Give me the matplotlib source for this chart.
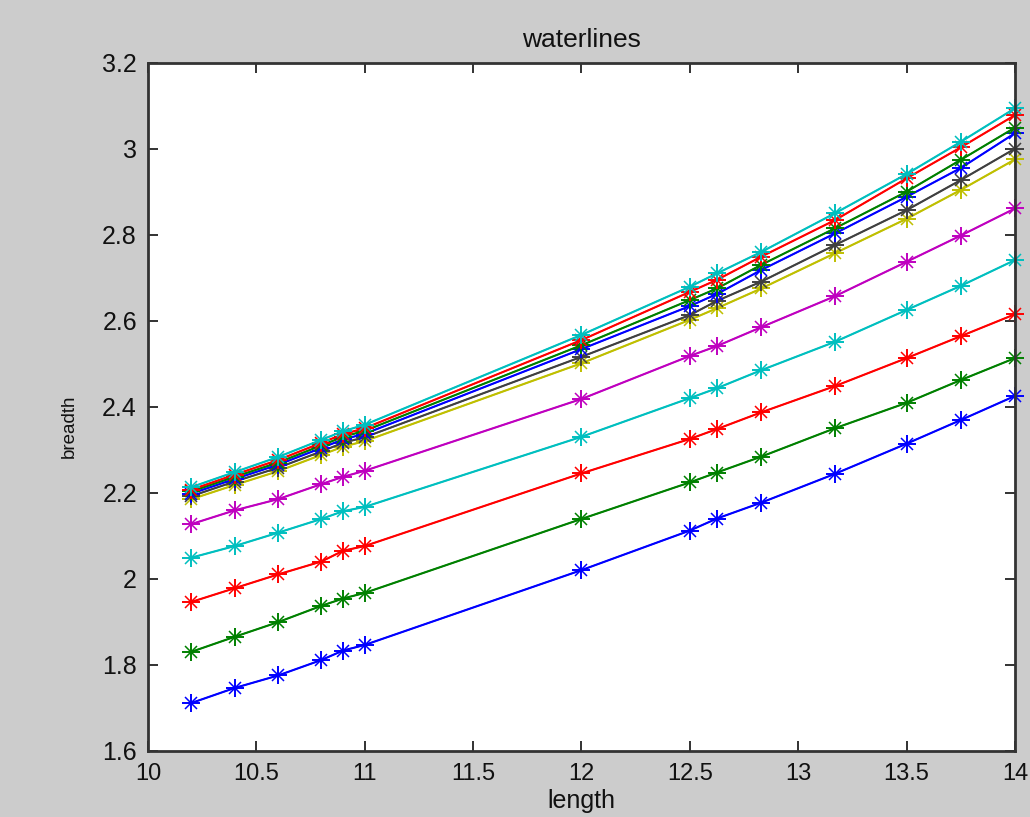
import matplotlib
matplotlib.use("Agg")
import matplotlib.pyplot as plt

# station positions along the length
length = [10.2, 10.4, 10.6, 10.8, 10.9, 11.0, 12.0, 12.5, 12.625, 12.83, 13.17, 13.5, 13.75, 14.0]

# breadth of each waterline, bottom to top
wl1 = [1.711, 1.746, 1.775, 1.811, 1.833, 1.846, 2.020, 2.112, 2.140, 2.177, 2.244, 2.314, 2.369, 2.425]
wl2 = [1.830, 1.865, 1.899, 1.937, 1.954, 1.967, 2.139, 2.224, 2.247, 2.284, 2.350, 2.409, 2.462, 2.513]
wl3 = [1.946, 1.978, 2.010, 2.040, 2.065, 2.076, 2.245, 2.325, 2.348, 2.387, 2.448, 2.513, 2.564, 2.615]
wl4 = [2.049, 2.076, 2.107, 2.139, 2.157, 2.167, 2.330, 2.420, 2.443, 2.485, 2.551, 2.625, 2.681, 2.741]
wl5 = [2.127, 2.159, 2.185, 2.220, 2.237, 2.251, 2.418, 2.518, 2.541, 2.585, 2.657, 2.737, 2.798, 2.861]
wl6 = [2.185, 2.218, 2.250, 2.288, 2.307, 2.320, 2.501, 2.602, 2.629, 2.675, 2.757, 2.837, 2.904, 2.975]
wl7 = [2.192, 2.226, 2.258, 2.296, 2.316, 2.329, 2.516, 2.613, 2.646, 2.691, 2.776, 2.857, 2.927, 3.000]
wl8 = [2.198, 2.232, 2.265, 2.304, 2.324, 2.337, 2.534, 2.634, 2.662, 2.718, 2.803, 2.888, 2.955, 3.036]
wl9 = [2.203, 2.237, 2.270, 2.310, 2.330, 2.344, 2.543, 2.648, 2.675, 2.730, 2.815, 2.900, 2.974, 3.049]
wl10 = [2.207, 2.242, 2.276, 2.316, 2.336, 2.350, 2.555, 2.667, 2.695, 2.749, 2.834, 2.931, 3.003, 3.078]
wl11 = [2.213, 2.248, 2.283, 2.323, 2.343, 2.358, 2.567, 2.679, 2.710, 2.760, 2.850, 2.941, 3.016, 3.094]
waterlines = [wl1, wl2, wl3, wl4, wl5, wl6, wl7, wl8, wl9, wl10, wl11]

# matlab default "b g r c m y k" cycle
colors = [(0, 0, 1), (0, 0.5, 0), (1, 0, 0), (0, 0.75, 0.75), (0.75, 0, 0.75),
          (0.75, 0.75, 0), (0.25, 0.25, 0.25)]

font = ["Liberation Sans", "DejaVu Sans"]

fig = plt.figure(figsize=(10.3, 8.17), dpi=100, facecolor="#cccccc")
ax = fig.add_axes([0.1437, 0.0811, 0.8417, 0.8422])
ax.set_facecolor("white")

for i, wl in enumerate(waterlines):
    c = colors[i % len(colors)]
    ax.plot(length, wl, "-", color=c, lw=1.0, marker="+", ms=13, mew=1.4, clip_on=False)
    ax.plot(length, wl, "none", color=c, marker="x", ms=8, mew=1.1, clip_on=False)

ax.set_xlim(10, 14)
ax.set_ylim(1.6, 3.2)
ax.set_xticks([10, 10.5, 11, 11.5, 12, 12.5, 13, 13.5, 14])
ax.set_xticklabels(["10", "10.5", "11", "11.5", "12", "12.5", "13", "13.5", "14"])
ax.set_yticks([1.6, 1.8, 2.0, 2.2, 2.4, 2.6, 2.8, 3.0, 3.2])
ax.set_yticklabels(["1.6", "1.8", "2", "2.2", "2.4", "2.6", "2.8", "3", "3.2"])

ax.tick_params(direction="in", length=7, width=1.3, top=True, right=True, color="#222222")
ax.tick_params(axis="x", pad=9)
ax.tick_params(axis="y", pad=8)
for lab in ax.get_xticklabels():
    lab.set_family(font)
    lab.set_fontsize(17)
    lab.set_color("#111111")
for lab in ax.get_yticklabels():
    lab.set_family(font)
    lab.set_fontsize(18)
    lab.set_color("#111111")

for sp in ax.spines.values():
    sp.set_linewidth(2)
    sp.set_color("#333333")

ax.set_title("waterlines", family=font, fontsize=19, pad=11, color="#111111")
ax.set_xlabel("length", family=font, fontsize=18, labelpad=3, color="#111111")
ax.set_ylabel("breadth", family=font, fontsize=13.5, color="#111111")
ax.yaxis.set_label_coords(-0.081, 0.472)

fig.savefig("out.png", dpi=100, facecolor=fig.get_facecolor())
